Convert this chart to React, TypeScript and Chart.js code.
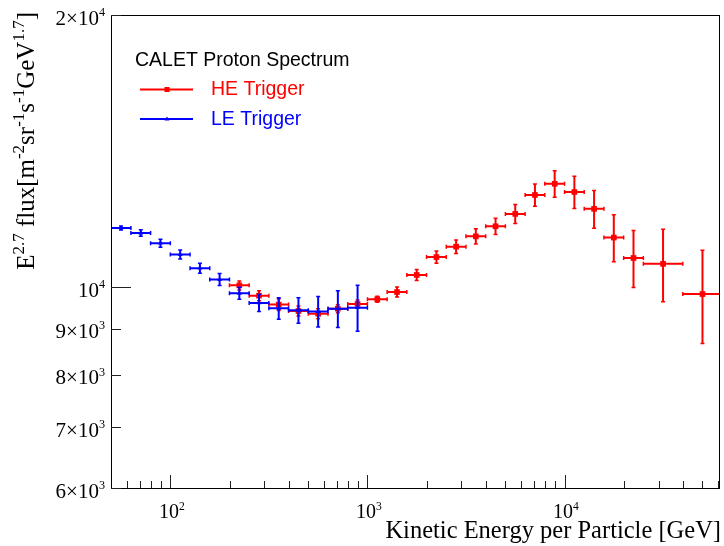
import React, { useEffect, useRef } from "react";
import { Chart, registerables } from "chart.js";

Chart.register(...registerables);

// ---------------- data ----------------
const leEnergy = [56.2, 70.8, 89.1, 112.2, 141.3, 177.8, 223.9, 281.8, 354.8, 446.7, 562.3, 707.9, 891.3];
const leBinLow = [50.1, 63.1, 79.4, 100, 125.9, 158.5, 199.5, 251.2, 316.2, 398.1, 501.2, 631.0, 794.3];
const leBinHigh = [63.1, 79.4, 100, 125.9, 158.5, 199.5, 251.2, 316.2, 398.1, 501.2, 631.0, 794.3, 1000];
const leFlux = [11630, 11480, 11190, 10870, 10500, 10200, 9850, 9610, 9480, 9430, 9405, 9470, 9495];
const leErr = [60, 95, 115, 125, 135, 155, 150, 210, 260, 305, 365, 445, 555];

const heEnergy = [223.9, 281.8, 354.8, 446.7, 562.3, 707.9, 891.3, 1122, 1413, 1778, 2239, 2818, 3548, 4467, 5623, 7079, 8913, 11220, 14125, 17783, 22387, 31623, 50119];
const heBinLow = [199.5, 251.2, 316.2, 398.1, 501.2, 631.0, 794.3, 1000, 1259, 1585, 1995, 2512, 3162, 3981, 5012, 6310, 7943, 10000, 12589, 15849, 19953, 25119, 39811];
const heBinHigh = [251.2, 316.2, 398.1, 501.2, 631.0, 794.3, 1000, 1259, 1585, 1995, 2512, 3162, 3981, 5012, 6310, 7943, 10000, 12589, 15849, 19953, 25119, 39811, 63096];
const heFlux = [10050, 9790, 9570, 9415, 9350, 9470, 9585, 9700, 9880, 10320, 10800, 11090, 11385, 11680, 12055, 12650, 13015, 12745, 12210, 11350, 10775, 10615, 9830];
const heErr = [115, 125, 145, 120, 120, 95, 95, 75, 125, 145, 165, 190, 220, 240, 290, 355, 440, 520, 585, 675, 780, 975, 1160];

const xMin = 50;
const xMax = 61500;
const yMin = 6000;
const yMax = 20000;

const xMajorTicks = [100, 1000, 10000];
const xMajorLabels = ["10^2", "10^3", "10^4"];
const xMinorTicks = [60, 70, 80, 90, 200, 300, 400, 500, 600, 700, 800, 900, 2000, 3000, 4000, 5000, 6000, 7000, 8000, 9000, 20000, 30000, 40000, 50000, 60000];

const yTicks = [6000, 7000, 8000, 9000, 10000, 20000];
const yTickLabels = ["6×10^3", "7×10^3", "8×10^3", "9×10^3", "10^4", "2×10^4"];

const xTitle = "Kinetic Energy per Particle [GeV]";
const yTitle = "E^{2.7} flux[m^{-2}sr^{-1}s^{-1}GeV^{1.7}]";
const legendHeader = "CALET Proton Spectrum";
const heLabel = "HE Trigger";
const leLabel = "LE Trigger";

const RED = "#ff0000";
const BLUE = "#0000ff";
const SERIF = '"Liberation Serif", "Times New Roman", serif';
const SANS = '"Liberation Sans", Arial, sans-serif';

// ---------------- helpers ----------------
type Part = { t: string; sup?: boolean };

function parseRich(s: string): Part[] {
  const parts: Part[] = [];
  let i = 0;
  let buf = "";
  while (i < s.length) {
    if (s[i] === "^") {
      if (buf) { parts.push({ t: buf }); buf = ""; }
      i++;
      let sup = "";
      if (s[i] === "{") {
        i++;
        while (i < s.length && s[i] !== "}") { sup += s[i]; i++; }
        i++;
      } else {
        while (i < s.length && /[0-9.\-]/.test(s[i])) { sup += s[i]; i++; }
      }
      parts.push({ t: sup, sup: true });
    } else {
      buf += s[i];
      i++;
    }
  }
  if (buf) parts.push({ t: buf });
  return parts;
}

function drawRich(
  ctx: CanvasRenderingContext2D,
  text: string,
  x: number,
  y: number,
  size: number,
  family: string,
  align: "left" | "right" | "center",
  supScale: number,
  rise: number,
  color: string
) {
  const parts = parseRich(text);
  const widths = parts.map((p) => {
    ctx.font = `${p.sup ? size * supScale : size}px ${family}`;
    return ctx.measureText(p.t).width;
  });
  const total = widths.reduce((a, b) => a + b, 0);
  let cx = align === "right" ? x - total : align === "center" ? x - total / 2 : x;
  ctx.fillStyle = color;
  ctx.textAlign = "left";
  ctx.textBaseline = "alphabetic";
  parts.forEach((p, i) => {
    ctx.font = `${p.sup ? size * supScale : size}px ${family}`;
    ctx.fillText(p.t, cx, p.sup ? y - size * rise : y);
    cx += widths[i];
  });
}

function drawErrors(
  chart: any,
  energy: number[],
  lo: number[],
  hi: number[],
  flux: number[],
  err: number[],
  color: string
) {
  const { ctx, chartArea, scales } = chart;
  const xs = scales.x;
  const ys = scales.y;
  ctx.save();
  ctx.beginPath();
  ctx.rect(chartArea.left, chartArea.top, chartArea.right - chartArea.left, chartArea.bottom - chartArea.top);
  ctx.clip();
  ctx.strokeStyle = color;
  ctx.lineWidth = 2;
  ctx.lineCap = "butt";
  for (let i = 0; i < energy.length; i++) {
    const px = xs.getPixelForValue(energy[i]);
    const py = ys.getPixelForValue(flux[i]);
    const x0 = xs.getPixelForValue(lo[i]);
    const x1 = xs.getPixelForValue(hi[i]);
    const yTop = ys.getPixelForValue(flux[i] + err[i]);
    const yBot = ys.getPixelForValue(flux[i] - err[i]);
    ctx.beginPath();
    ctx.moveTo(x0, py);
    ctx.lineTo(x1, py);
    ctx.moveTo(px, yTop);
    ctx.lineTo(px, yBot);
    ctx.stroke();
    // small end caps
    ctx.lineWidth = 1.5;
    ctx.beginPath();
    ctx.moveTo(px - 2, yTop);
    ctx.lineTo(px + 2, yTop);
    ctx.moveTo(px - 2, yBot);
    ctx.lineTo(px + 2, yBot);
    ctx.moveTo(x0, py - 2);
    ctx.lineTo(x0, py + 2);
    ctx.moveTo(x1, py - 2);
    ctx.lineTo(x1, py + 2);
    ctx.stroke();
    ctx.lineWidth = 2;
  }
  ctx.restore();
}

const rootPlugin = {
  id: "rootStyle",
  beforeDatasetDraw(chart: any, args: any) {
    if (args.index === 0) drawErrors(chart, heEnergy, heBinLow, heBinHigh, heFlux, heErr, RED);
    else drawErrors(chart, leEnergy, leBinLow, leBinHigh, leFlux, leErr, BLUE);
  },
  afterDraw(chart: any) {
    const { ctx, chartArea, scales } = chart;
    const xs = scales.x;
    const ys = scales.y;
    const L = chartArea.left;
    const R = chartArea.right;
    const T = chartArea.top;
    const B = chartArea.bottom;
    ctx.save();

    // frame
    ctx.strokeStyle = "#000";
    ctx.lineWidth = 1;
    ctx.strokeRect(Math.round(L) + 0.5, Math.round(T) + 0.5, Math.round(R - L) - 1, Math.round(B - T));

    // x ticks
    ctx.strokeStyle = "#222";
    ctx.beginPath();
    xMajorTicks.forEach((v) => {
      const px = Math.round(xs.getPixelForValue(v)) + 0.5;
      ctx.moveTo(px, B);
      ctx.lineTo(px, B - 13);
    });
    xMinorTicks.forEach((v) => {
      const px = Math.round(xs.getPixelForValue(v)) + 0.5;
      ctx.moveTo(px, B);
      ctx.lineTo(px, B - 7);
    });
    ctx.stroke();

    // y ticks
    ctx.beginPath();
    yTicks.forEach((v) => {
      const py = Math.round(ys.getPixelForValue(v)) + 0.5;
      const len = v === 10000 ? 20 : 10;
      ctx.moveTo(L, py);
      ctx.lineTo(L + len, py);
    });
    ctx.stroke();

    // x tick labels
    xMajorTicks.forEach((v, i) => {
      const px = xs.getPixelForValue(v);
      drawRich(ctx, xMajorLabels[i], px + 1.5, B + 30, 20, SERIF, "center", 0.58, 0.42, "#000");
    });

    // y tick labels
    yTicks.forEach((v, i) => {
      const py = ys.getPixelForValue(v);
      drawRich(ctx, yTickLabels[i], L - 6, py + 9.5, 21, SERIF, "right", 0.58, 0.42, "#000");
    });

    // x title
    drawRich(ctx, xTitle, R + 1, B + 50, 24.5, SERIF, "right", 0.6, 0.42, "#000");

    // y title (rotated)
    ctx.save();
    ctx.translate(34, T - 3);
    ctx.rotate(-Math.PI / 2);
    drawRich(ctx, yTitle, 0, 0, 25, SERIF, "right", 0.68, 0.42, "#000");
    ctx.restore();

    // legend
    ctx.font = `19.5px ${SANS}`;
    ctx.fillStyle = "#000";
    ctx.textAlign = "left";
    ctx.textBaseline = "middle";
    ctx.fillText(legendHeader, 135, 61);

    ctx.lineWidth = 2;
    ctx.strokeStyle = RED;
    ctx.beginPath();
    ctx.moveTo(140, 89.5);
    ctx.lineTo(193, 89.5);
    ctx.stroke();
    ctx.fillStyle = RED;
    ctx.fillRect(164.5, 87, 5, 5);
    ctx.fillText(heLabel, 211, 89.5);

    ctx.strokeStyle = BLUE;
    ctx.beginPath();
    ctx.moveTo(140, 119);
    ctx.lineTo(193, 119);
    ctx.stroke();
    ctx.fillStyle = BLUE;
    ctx.beginPath();
    ctx.moveTo(167, 116.5);
    ctx.lineTo(169.5, 120.5);
    ctx.lineTo(164.5, 120.5);
    ctx.closePath();
    ctx.fill();
    ctx.fillStyle = BLUE;
    ctx.fillText(leLabel, 211, 119.5);

    ctx.restore();
  },
};

export default function App() {
  const canvasRef = useRef<HTMLCanvasElement | null>(null);

  useEffect(() => {
    const canvas = canvasRef.current;
    if (!canvas) return;
    const chart = new Chart(canvas, {
      type: "scatter",
      data: {
        datasets: [
          {
            label: heLabel,
            data: heEnergy.map((e, i) => ({ x: e, y: heFlux[i] })),
            pointStyle: "rect",
            pointRadius: 4,
            pointBorderWidth: 0,
            backgroundColor: RED,
            borderColor: RED,
            order: 1,
          },
          {
            label: leLabel,
            data: leEnergy.map((e, i) => ({ x: e, y: leFlux[i] })),
            pointStyle: "triangle",
            pointRadius: 2.8,
            pointBorderWidth: 0,
            backgroundColor: BLUE,
            borderColor: BLUE,
            order: 0,
          },
        ],
      },
      options: {
        animation: false,
        responsive: false,
        maintainAspectRatio: false,
        events: [],
        layout: { padding: { left: 111, top: 15, right: 3, bottom: 58 } },
        scales: {
          x: { type: "logarithmic", min: xMin, max: xMax, display: false },
          y: { type: "logarithmic", min: yMin, max: yMax, display: false },
        },
        plugins: {
          legend: { display: false },
          tooltip: { enabled: false },
        },
      },
      plugins: [rootPlugin],
    } as any);
    return () => chart.destroy();
  }, []);

  return (
    <div style={{ position: "fixed", left: 0, top: 0, width: 724, height: 546, background: "#fff" }}>
      <canvas ref={canvasRef} width={724} height={546} style={{ display: "block", width: 724, height: 546 }} />
    </div>
  );
}
